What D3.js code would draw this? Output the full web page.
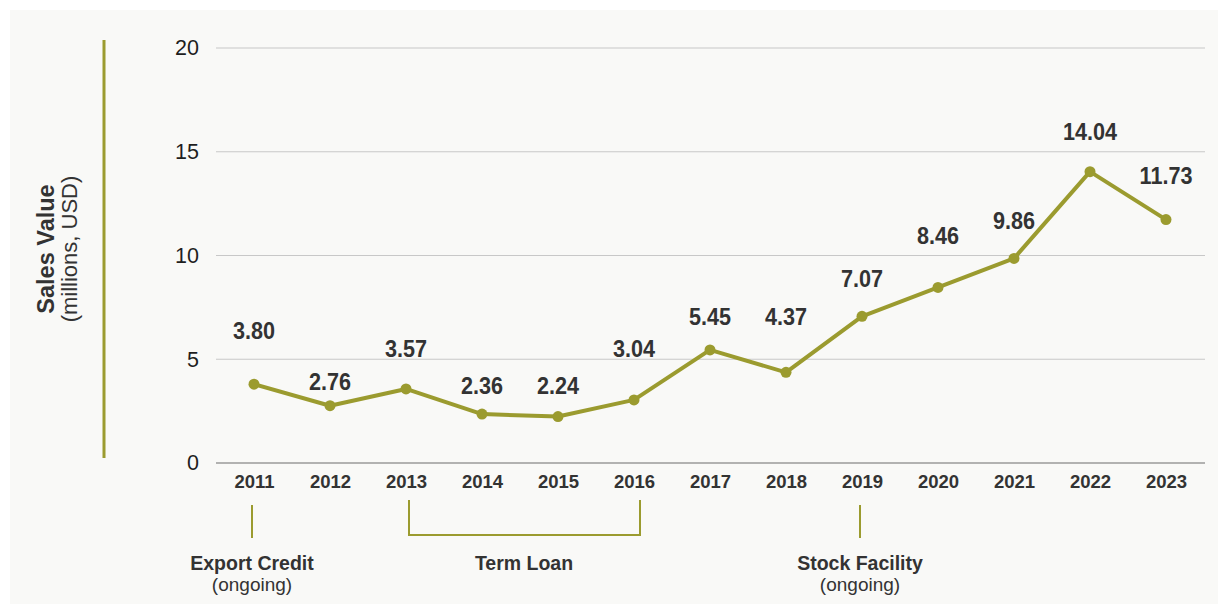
<!DOCTYPE html>
<html><head><meta charset="utf-8">
<script src="https://cdn.jsdelivr.net/npm/d3@7"></script>
<style>
html,body{margin:0;padding:0;background:#fff;}
svg{display:block;font-family:"Liberation Sans",Arial,Helvetica,sans-serif;}
</style></head>
<body>
<svg id="chart" width="1218" height="606"></svg>
<script>
const years = ["2011","2012","2013","2014","2015","2016","2017","2018","2019","2020","2021","2022","2023"];
const sales = [3.80,2.76,3.57,2.36,2.24,3.04,5.45,4.37,7.07,8.46,9.86,14.04,11.73];
const yTicks = [0,5,10,15,20];
// vertical offset (px) of each value label above its point
const labelDy = [-54,-24,-41,-29,-31,-52,-34,-56,-38,-52,-38,-40,-44];
const annotations = [
  {title:"Export Credit", sub:"(ongoing)", from:"2011", to:"2011"},
  {title:"Term Loan", sub:"", from:"2013", to:"2016"},
  {title:"Stock Facility", sub:"(ongoing)", from:"2019", to:"2019"}
];

const olive = "#9b9b2f";
const svg = d3.select("#chart");
svg.append("rect").attr("x",10).attr("y",10).attr("width",1208).attr("height",594).attr("fill","#f9f9f7");

const x = d3.scalePoint().domain(years).range([254,1166]);
const y = d3.scaleLinear().domain([0,20]).range([463,48]);

// grid
svg.append("g").selectAll("line").data(yTicks).join("line")
  .attr("x1",216).attr("x2",1205)
  .attr("y1",d=>y(d)).attr("y2",d=>y(d))
  .attr("stroke",d=>d===0?"#9a9a9a":"#c8c8c8").attr("stroke-width",d=>d===0?1.5:1.2);

// y axis labels
const yAxis = d3.axisLeft(y).tickValues(yTicks).tickSize(0).tickPadding(0);
const gy = svg.append("g").attr("transform","translate(199,0)").call(yAxis);
gy.select(".domain").remove();
gy.selectAll("text").attr("font-size",21.5).attr("fill","#1e1e1e")
  .attr("font-family","'Liberation Sans',Arial,sans-serif");

// x axis labels
const xAxis = d3.axisBottom(x).tickSize(0).tickPadding(0);
const gx = svg.append("g").attr("transform","translate(0,475)").call(xAxis);
gx.select(".domain").remove();
gx.selectAll("text").attr("font-size",18.5).attr("font-weight","bold").attr("fill","#333")
  .attr("font-family","'Liberation Sans',Arial,sans-serif");

// y title
svg.append("line").attr("x1",104).attr("x2",104).attr("y1",40).attr("y2",458)
  .attr("stroke",olive).attr("stroke-width",3);
const yt = svg.append("g").attr("transform","translate(0,249) rotate(-90)");
yt.append("text").attr("x",0).attr("y",54).attr("text-anchor","middle")
  .attr("font-size",23.5).attr("font-weight","bold").attr("fill","#333").text("Sales Value");
yt.append("text").attr("x",0).attr("y",77).attr("text-anchor","middle")
  .attr("font-size",22).attr("fill","#333").text("(millions, USD)");

// line
const pts = years.map((yr,i)=>({yr, v:sales[i], dy:labelDy[i]}));
svg.append("path").datum(pts)
  .attr("d", d3.line().x(d=>x(d.yr)).y(d=>y(d.v)))
  .attr("fill","none").attr("stroke",olive).attr("stroke-width",4).attr("stroke-linejoin","round");
svg.append("g").selectAll("circle").data(pts).join("circle")
  .attr("cx",d=>x(d.yr)).attr("cy",d=>y(d.v)).attr("r",5.5).attr("fill",olive);
svg.append("g").selectAll("text").data(pts).join("text")
  .attr("transform",d=>`translate(${x(d.yr)},${y(d.v)+d.dy}) scale(0.9,1)`)
  .attr("dy","0.36em")
  .attr("text-anchor","middle").attr("font-size",24).attr("font-weight","bold")
  .attr("fill","#333")
  .text(d=>d.v.toFixed(2));

// annotations
const ann = svg.append("g");
annotations.forEach(a=>{
  const x1 = x(a.from), x2 = x(a.to);
  if (a.from === a.to) {
    ann.append("line").attr("x1",x1-2).attr("x2",x1-2).attr("y1",505).attr("y2",538)
      .attr("stroke",olive).attr("stroke-width",2);
  } else {
    ann.append("path").attr("d",`M${x1+3},500 V535 H${x2+6} V500`)
      .attr("fill","none").attr("stroke",olive).attr("stroke-width",2);
  }
  const cx = (x1+x2)/2 + (a.from===a.to?-2:4);
  ann.append("text").attr("x",cx).attr("y",570).attr("text-anchor","middle")
    .attr("font-size",19.5).attr("font-weight","bold").attr("fill","#333").text(a.title);
  if (a.sub) ann.append("text").attr("x",cx).attr("y",591).attr("text-anchor","middle")
    .attr("font-size",19).attr("fill","#333").text(a.sub);
});
</script>
</body></html>
